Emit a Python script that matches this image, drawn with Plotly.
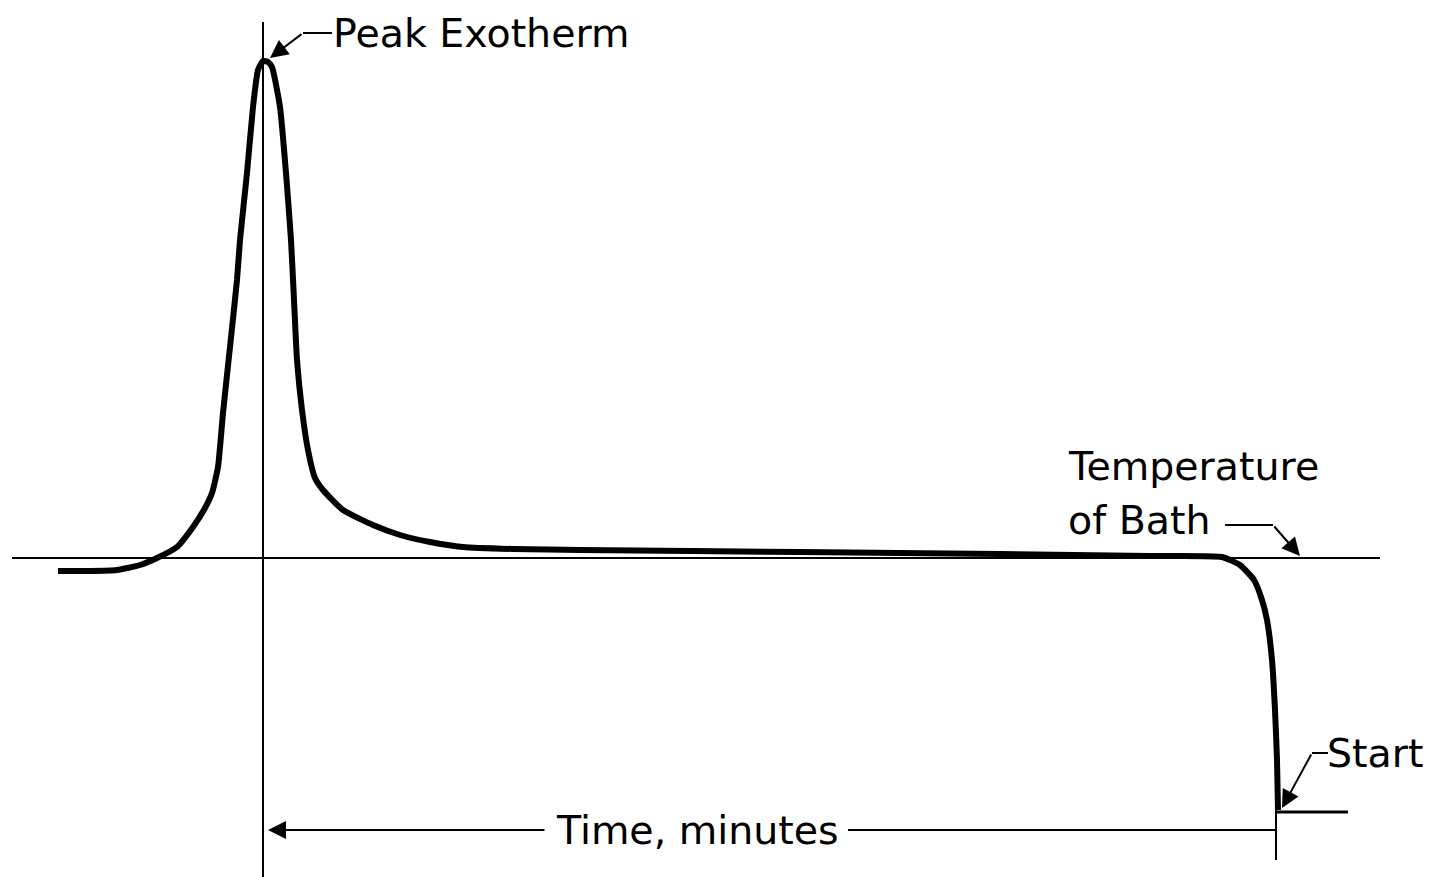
import plotly.graph_objects as go

# Curve (schematic exotherm trace), x = chart position, y = chart position (down is lower temperature)
curve_x = [58, 90, 117, 140, 157, 177, 193, 205, 212, 218, 223, 230, 237, 240, 247, 253, 258, 263,
           268, 272, 280, 286, 291, 294, 297, 302, 308, 315, 323, 343, 373, 400, 430, 463, 513, 580,
           800, 1000, 1150, 1222, 1240, 1254, 1262, 1267, 1272, 1275, 1277, 1278]
curve_y = [571, 571, 570, 565, 558, 547, 527, 508, 493, 467, 413, 347, 280, 240, 173, 107, 70, 61,
           62, 67, 107, 173, 240, 300, 360, 410, 450, 478, 490, 510, 525, 535, 542, 547, 549, 550,
           552, 554, 556, 557, 565, 580, 600, 620, 660, 710, 760, 810]

bath_level = 558
peak_x = 263
start_x = 1276
time_arrow_y = 830

labels = {
    "peak": "Peak Exotherm",
    "bath1": "Temperature",
    "bath2": "of Bath",
    "time": "Time, minutes",
    "start": "Start",
}

FONT = "DejaVu Sans"

fig = go.Figure()

def seg(x0, y0, x1, y1, w=2):
    fig.add_shape(type="line", x0=x0, y0=y0, x1=x1, y1=y1, xref="x", yref="y",
                  line=dict(color="black", width=w))

# reference lines
seg(12, bath_level, 1380, bath_level, 2)
seg(peak_x, 22, peak_x, 877, 2)
seg(start_x, 810, start_x, 860, 2)
seg(848, time_arrow_y, start_x, time_arrow_y, 2)
seg(start_x, 812, 1348, 812, 3)

fig.add_trace(go.Scatter(x=curve_x, y=curve_y, mode="lines",
                         line=dict(color="black", width=6, shape="spline", smoothing=0.5),
                         hoverinfo="skip", showlegend=False))

# leader lines
seg(303, 33, 332, 33, 2)
seg(1225, 525, 1273, 525, 2)
seg(1312, 753, 1328, 753, 2)

def arrow(x_tail, y_tail, x_tip, y_tip):
    fig.add_annotation(x=x_tip, y=y_tip, ax=x_tail, ay=y_tail, xref="x", yref="y",
                       axref="x", ayref="y", text="", showarrow=True,
                       arrowhead=2, arrowsize=1.8, arrowwidth=2, arrowcolor="black")

arrow(303, 33, 270, 58)
arrow(1273, 525, 1300, 556)
arrow(1312, 753, 1282, 808)
arrow(546, time_arrow_y, 268, time_arrow_y)

def label(x, y, txt, anchor="left"):
    fig.add_annotation(x=x, y=y, xref="x", yref="y", text=txt, showarrow=False,
                       xanchor=anchor, yanchor="middle",
                       font=dict(family=FONT, size=39.5, color="black"))

label(331, 33, labels["peak"])
label(1066, 466, labels["bath1"])
label(1066, 520, labels["bath2"])
label(697, time_arrow_y, labels["time"], "center")
label(1325, 753, labels["start"])

fig.update_layout(
    width=1431, height=877,
    margin=dict(l=0, r=0, t=0, b=0),
    paper_bgcolor="white", plot_bgcolor="white",
    xaxis=dict(range=[0, 1431], visible=False, fixedrange=True),
    yaxis=dict(range=[877, 0], visible=False, fixedrange=True),
    showlegend=False,
)

fig.write_html("out.html", config={"displayModeBar": False},
               post_script="document.body.style.margin='0';document.body.style.padding='0';"
                           "document.body.style.overflow='hidden';")
